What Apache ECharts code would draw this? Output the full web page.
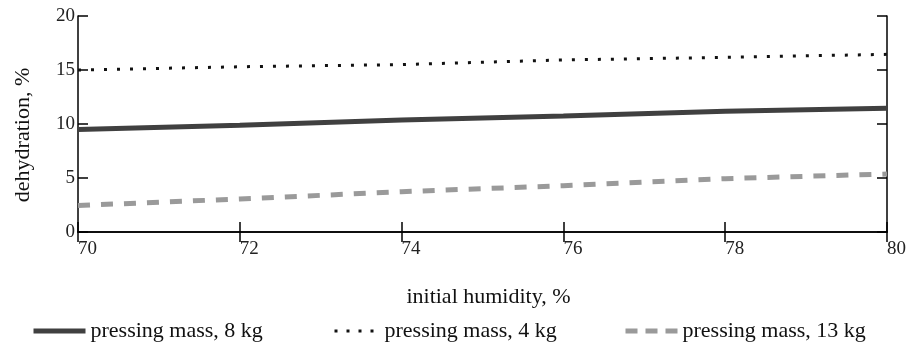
<!DOCTYPE html>
<html>
<head>
<meta charset="utf-8">
<script src="https://cdn.jsdelivr.net/npm/echarts@6/dist/echarts.min.js"></script>
<style>
html,body{margin:0;padding:0;background:#fff;}
#chart{width:909px;height:344px;}
</style>
</head>
<body>
<div id="chart"></div>
<script>
// Data
const humidity = [70, 72, 74, 76, 78, 80];
const mass8 = [9.5, 9.88, 10.37, 10.74, 11.17, 11.45];
const mass4 = [15.0, 15.3, 15.5, 15.93, 16.17, 16.45];
const mass13 = [2.45, 3.06, 3.73, 4.29, 4.94, 5.37];
const xTicks = [70, 72, 74, 76, 78, 80];
const yTicks = [0, 5, 10, 15, 20];
const seriesNames = ['pressing mass, 8 kg', 'pressing mass, 4 kg', 'pressing mass, 13 kg'];

const pairs = (ys) => humidity.map((x, i) => [x, ys[i]]);
const FONT = '"Liberation Serif", "Times New Roman", serif';

const chart = echarts.init(document.getElementById('chart'), null, {renderer: 'canvas'});

const axisLine = {show: true, lineStyle: {color: '#000', width: 1.5}};
const axisTick = {show: true, inside: true, length: 10, lineStyle: {color: '#000', width: 1.5}};

const legendBase = {
  top: 315, itemWidth: 52, itemHeight: 14,
  textStyle: {fontFamily: FONT, fontSize: 22, color: '#111'},
  itemStyle: {opacity: 0}
};

chart.setOption({
  animation: false,
  backgroundColor: '#fff',
  grid: {left: 78, right: 18, top: 16, bottom: 112, containLabel: false},
  legend: [
    Object.assign({}, legendBase, {left: 26, data: [seriesNames[0]],
      lineStyle: {color: '#404040', width: 5, type: 'solid'}}),
    Object.assign({}, legendBase, {left: 328, data: [seriesNames[1]], itemWidth: 45,
      lineStyle: {color: '#111', width: 3, type: [3, 9]}}),
    Object.assign({}, legendBase, {left: 618, data: [seriesNames[2]],
      lineStyle: {color: '#9a9a9a', width: 5, type: [12, 8]}})
  ],
  xAxis: [
    {
      type: 'value', position: 'bottom', min: 70, max: 80, interval: 2,
      axisLine: axisLine, axisTick: axisTick, splitLine: {show: false},
      axisLabel: {
        fontFamily: FONT, fontSize: 19, color: '#222', margin: 8, align: 'left',
        formatter: (v) => xTicks.includes(v) ? String(v) : ''
      },
      name: 'initial humidity, %', nameLocation: 'middle', nameGap: 54,
      nameTextStyle: {fontFamily: FONT, fontSize: 22, color: '#111', padding: [0, 0, 0, 12]}
    },
    {
      type: 'value', position: 'top', min: 70, max: 80, interval: 2,
      axisLine: axisLine, axisTick: axisTick, axisLabel: {show: false}, splitLine: {show: false}
    }
  ],
  yAxis: [
    {
      type: 'value', position: 'left', min: 0, max: 20, interval: 5,
      axisLine: axisLine, axisTick: axisTick, splitLine: {show: false},
      axisLabel: {
        fontFamily: FONT, fontSize: 19, color: '#222', margin: 3,
        formatter: (v) => yTicks.includes(v) ? String(v) : ''
      },
      name: 'dehydration, %', nameLocation: 'middle', nameGap: 44, nameRotate: 90,
      nameTextStyle: {fontFamily: FONT, fontSize: 22, color: '#111', padding: [0, 22, 0, 0]}
    },
    {
      type: 'value', position: 'right', min: 0, max: 20, interval: 5,
      axisLine: axisLine, axisTick: axisTick, axisLabel: {show: false}, splitLine: {show: false}
    }
  ],
  series: [
    {
      name: seriesNames[0], type: 'line', data: pairs(mass8), symbol: 'none',
      itemStyle: {color: '#404040'},
      lineStyle: {color: '#404040', width: 5}
    },
    {
      name: seriesNames[1], type: 'line', data: pairs(mass4), symbol: 'none',
      itemStyle: {color: '#111'},
      lineStyle: {color: '#111', width: 3, type: [3, 10]}
    },
    {
      name: seriesNames[2], type: 'line', data: pairs(mass13), symbol: 'none',
      itemStyle: {color: '#9a9a9a'},
      lineStyle: {color: '#9a9a9a', width: 5, type: [12, 11]}
    }
  ]
});
</script>
</body>
</html>
